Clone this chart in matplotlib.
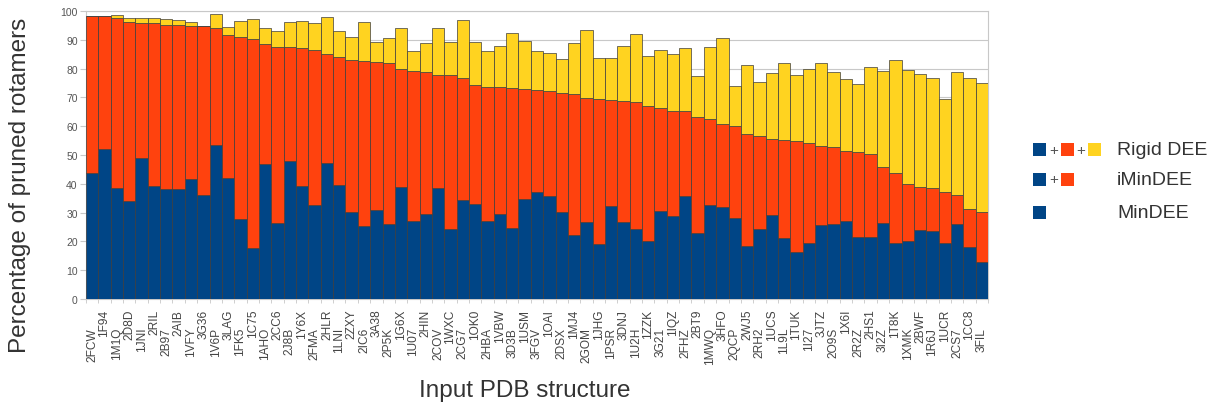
import matplotlib
matplotlib.use("Agg")
import matplotlib.pyplot as plt
from matplotlib.patches import Rectangle
from matplotlib.transforms import ScaledTranslation

plt.rcParams["font.family"] = ["Liberation Sans", "DejaVu Sans"]

pdb_ids = [
    "2FCW", "1F94", "1M1Q", "2D8D", "1JNI", "2RIL", "2B97", "2AIB", "1VFY", "3G36",
    "1V6P", "3LAG", "1FK5", "1C75", "1AHO", "2CC6", "2J8B", "1Y6X", "2FMA", "2HLR",
    "1LNI", "2ZXY", "2IC6", "3A38", "2P5K", "1G6X", "1U07", "2HIN", "2COV", "1WXC",
    "2CG7", "1OK0", "2HBA", "1VBW", "3D3B", "1USM", "3FGV", "1OAI", "2DSX", "1MJ4",
    "2GOM", "1JHG", "1PSR", "3DNJ", "1U2H", "1ZZK", "3G21", "1IQZ", "2FHZ", "2BT9",
    "1MWQ", "3HFO", "2QCP", "2WJ5", "2RH2", "1UCS", "1L9L", "1TUK", "1I27", "3JTZ",
    "2O9S", "1X6I", "2R2Z", "2HS1", "3I2Z", "1T8K", "1XMK", "2BWF", "1R6J", "1UCR",
    "2CS7", "1CC8", "3FIL",
]
# cumulative percentages: MinDEE <= iMinDEE <= Rigid DEE
mindee = [
    43.6, 52.1, 38.4, 34.1, 49.1, 39.4, 38.2, 38.2, 41.6, 36.2,
    53.6, 42.1, 27.8, 17.6, 46.9, 26.4, 48.0, 39.4, 32.6, 47.2,
    39.7, 30.1, 25.5, 30.9, 26.0, 38.9, 27.1, 29.5, 38.7, 24.3,
    34.5, 33.1, 27.1, 29.4, 24.5, 34.7, 37.3, 35.9, 30.1, 22.2,
    26.6, 19.1, 32.2, 26.6, 24.3, 20.3, 30.6, 28.8, 35.9, 22.9,
    32.6, 31.9, 28.1, 18.4, 24.2, 29.2, 21.3, 16.2, 19.4, 25.8,
    26.0, 27.2, 21.4, 21.6, 26.4, 19.4, 20.0, 23.8, 23.5, 19.3,
    26.2, 18.1, 12.7,
]
imindee = [
    98.1, 98.1, 97.6, 96.3, 95.8, 95.8, 95.1, 95.1, 94.9, 94.7,
    94.2, 91.8, 91.0, 90.2, 88.7, 87.5, 87.4, 87.0, 86.6, 85.1,
    83.9, 83.0, 82.6, 82.2, 81.9, 79.7, 79.2, 78.7, 77.9, 77.7,
    76.7, 74.4, 73.7, 73.5, 73.1, 72.9, 72.7, 72.3, 71.5, 71.2,
    69.8, 69.4, 69.2, 68.9, 68.5, 67.1, 66.3, 65.4, 65.4, 63.1,
    62.5, 60.9, 60.1, 57.4, 56.6, 55.6, 55.2, 54.7, 54.1, 53.1,
    52.7, 51.4, 50.9, 50.5, 45.7, 43.6, 39.9, 39.0, 38.5, 37.3,
    36.1, 31.4, 30.1,
]
rigid = [
    98.4, 98.4, 98.7, 97.6, 97.6, 97.5, 97.2, 96.8, 96.3, 94.7,
    98.8, 94.6, 96.5, 97.1, 94.2, 92.9, 96.1, 96.6, 95.7, 97.8,
    92.9, 90.9, 96.3, 89.1, 90.5, 94.0, 86.1, 89.0, 94.0, 89.4,
    97.0, 89.1, 86.0, 88.0, 92.4, 89.6, 86.2, 85.3, 83.3, 88.8,
    93.4, 83.7, 83.7, 87.7, 91.9, 84.3, 86.3, 85.0, 87.0, 77.5,
    87.4, 90.7, 74.1, 81.4, 75.5, 78.5, 81.8, 77.8, 79.9, 81.8,
    78.7, 76.4, 74.7, 80.4, 79.1, 83.1, 79.5, 78.1, 76.9, 69.4,
    78.8, 76.9, 74.9,
]

BLUE, RED, YELLOW = "#004586", "#ff420e", "#ffd320"
EDGE = "#3c3c3c"
GRID = "#c8c8c8"

W, H = 1213, 406
fig = plt.figure(figsize=(W / 100, H / 100), dpi=100)
ax = fig.add_axes([86 / W, 1 - 300 / H, (988 - 86) / W, (300 - 12) / H])

x = list(range(len(pdb_ids)))
red_h = [i - m for i, m in zip(imindee, mindee)]
yel_h = [r - i for r, i in zip(rigid, imindee)]
kw = dict(width=1.0, edgecolor=EDGE, linewidth=0.5, zorder=3)
ax.bar(x, mindee, color=BLUE, **kw)
ax.bar(x, red_h, bottom=mindee, color=RED, **kw)
ax.bar(x, yel_h, bottom=imindee, color=YELLOW, **kw)

ax.set_xlim(-0.5, len(pdb_ids) - 0.5)
ax.set_ylim(0, 100)
ax.set_yticks(range(0, 101, 10))
ax.yaxis.grid(True, color=GRID, linewidth=0.8, zorder=0)
ax.tick_params(axis="y", length=4, color=GRID, labelsize=7.5, labelcolor="#555555", pad=2)
for s in ax.spines.values():
    s.set_color(GRID)
    s.set_linewidth(0.8)

ax.set_xticks(x)
ax.set_xticklabels(pdb_ids, rotation=90, fontsize=8.6, color="#444444")
ax.set_xticks([v - 0.5 for v in range(len(pdb_ids) + 1)], minor=True)
ax.tick_params(axis="x", which="major", length=0, pad=7)
ax.tick_params(axis="x", which="minor", length=3, color=GRID)
# staggered labels: every other one sits lower
shift = ScaledTranslation(0, -13 / 72, fig.dpi_scale_trans)
for lab in ax.get_xticklabels()[::2]:
    lab.set_transform(lab.get_transform() + shift)

fig.text(20 / W, 1 - 185 / H, "Percentage of pruned rotamers", rotation=90,
         ha="center", va="center", fontsize=17.5, color="#333333")
fig.text(525 / W, 1 - 391 / H, "Input PDB structure",
         ha="center", va="center", fontsize=17.5, color="#333333")


def square(px, py, color):
    fig.add_artist(Rectangle((px / W, 1 - (py + 13) / H), 13 / W, 13 / H,
                             transform=fig.transFigure, facecolor=color,
                             edgecolor="none"))


def plus(px, py):
    fig.text(px / W, 1 - py / H, "+", ha="center", va="center",
             fontsize=11, color="#555555")


rows = [
    (144, [BLUE, RED, YELLOW], "Rigid DEE"),
    (174, [BLUE, RED], "iMinDEE"),
    (207, [BLUE], "MinDEE"),
]
for top, colors, label in rows:
    for k, c in enumerate(colors):
        square(1033 + 27.5 * k, top, c)
        if k > 0:
            plus(1033 + 27.5 * k - 7, top + 6.5)
    fig.text(1117 / W, 1 - (top + 6.5) / H, label, ha="left", va="center",
             fontsize=14, color="#333333")

fig.savefig("out.png", dpi=100)
